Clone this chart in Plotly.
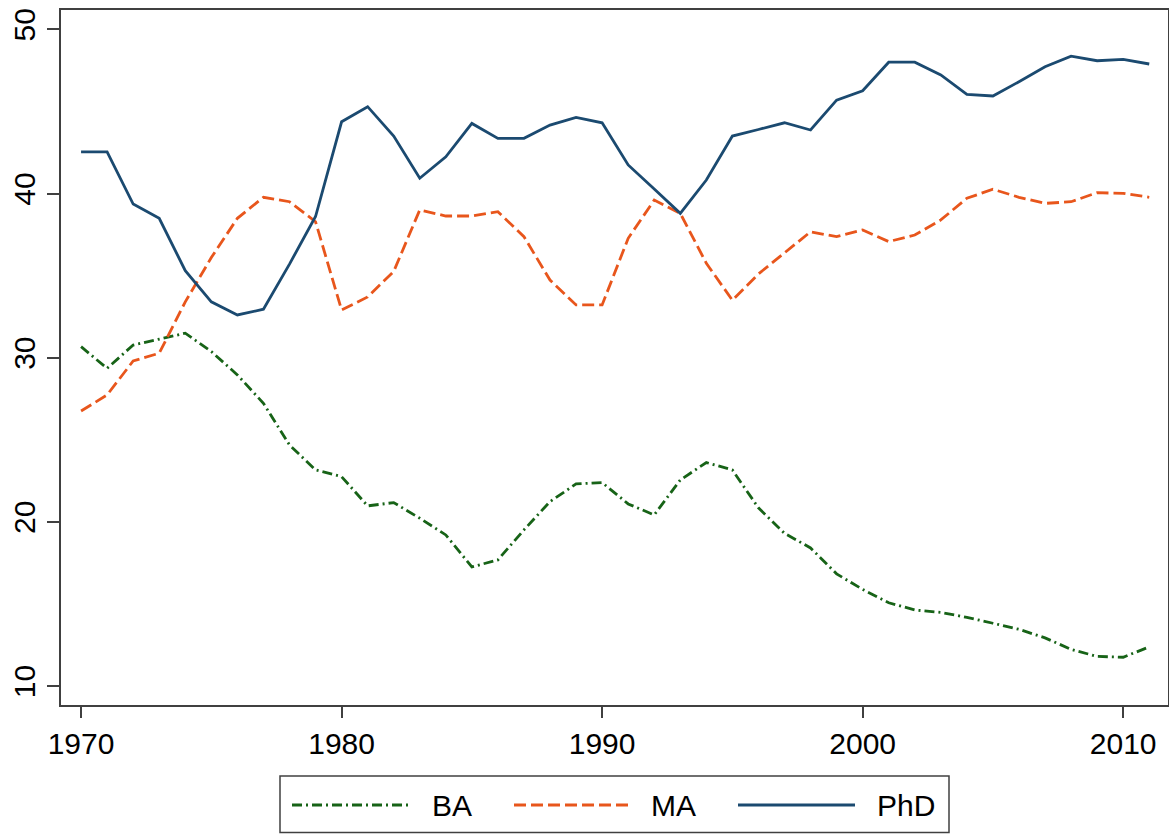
import plotly.graph_objects as go

years = list(range(1970, 2012))

ba = [30.67, 29.35, 30.77, 31.12, 31.49, 30.37, 28.95, 27.22, 24.68, 23.16,
      22.75, 20.97, 21.17, 20.22, 19.20, 17.25, 17.68, 19.51, 21.23, 22.31,
      22.39, 21.09, 20.42, 22.55, 23.61, 23.16, 20.85, 19.30, 18.41, 16.83,
      15.88, 15.07, 14.63, 14.48, 14.18, 13.82, 13.45, 12.93, 12.23, 11.80,
      11.75, 12.38]

ma = [26.75, 27.73, 29.80, 30.27, 33.40, 36.10, 38.49, 39.77, 39.50, 38.28,
      32.90, 33.70, 35.25, 39.00, 38.63, 38.63, 38.89, 37.37, 34.73, 33.21,
      33.21, 37.27, 39.60, 38.79, 35.75, 33.50, 35.10, 36.40, 37.67, 37.37,
      37.78, 37.07, 37.47, 38.39, 39.71, 40.26, 39.77, 39.40, 39.50, 40.05,
      40.01, 39.77]

phd = [42.54, 42.54, 39.36, 38.49, 35.30, 33.40, 32.60, 32.95, 35.70, 38.60,
       44.37, 45.29, 43.50, 40.93, 42.24, 44.27, 43.36, 43.36, 44.17, 44.64,
       44.31, 41.74, 40.27, 38.79, 40.82, 43.50, 43.90, 44.31, 43.87, 45.69,
       46.26, 48.00, 48.00, 47.22, 46.04, 45.94, 46.81, 47.72, 48.37, 48.09,
       48.17, 47.89]

series_names = ["BA", "MA", "PhD"]
series_colors = ["#176317", "#e8561c", "#1b4a70"]
series_dash = ["10px,4px,2px,4px", "12px,5px", "solid"]
x_ticks = [1970, 1980, 1990, 2000, 2010]
y_ticks = [10, 20, 30, 40, 50]

FONT = "Liberation Sans, Arial, sans-serif"
AXIS_COLOR = "#404040"
LW = 2.8

fig = go.Figure()
for name, vals, col, dash in zip(series_names, [ba, ma, phd], series_colors, series_dash):
    fig.add_trace(go.Scatter(x=years, y=vals, mode="lines", name=name,
                             line=dict(color=col, width=LW, dash=dash),
                             showlegend=False))

W, H = 1169, 834
L, R, T, B = 61, 1, 10, 129
pw, ph = W - L - R, H - T - B

def xp(px):  # page pixel -> paper x
    return (px - L) / pw

def yp(py):  # page pixel -> paper y
    return (H - B - py) / ph

shapes = [dict(type="rect", xref="paper", yref="paper",
               x0=xp(280), x1=xp(949), y0=yp(832.5), y1=yp(776),
               line=dict(color=AXIS_COLOR, width=1.5), fillcolor="white", layer="above")]
annotations = []
legend_items = [(292, 410, 430), (514, 632, 649), (738, 855, 875)]
for (lx0, lx1, tx), name, col, dash in zip(legend_items, series_names, series_colors, series_dash):
    shapes.append(dict(type="line", xref="paper", yref="paper",
                       x0=xp(lx0), x1=xp(lx1), y0=yp(805), y1=yp(805),
                       line=dict(color=col, width=LW, dash=dash)))
    annotations.append(dict(xref="paper", yref="paper", x=xp(tx), y=yp(805),
                            xanchor="left", yanchor="middle", text=name, showarrow=False,
                            font=dict(family=FONT, size=30, color="black")))

fig.update_layout(
    width=W, height=H,
    margin=dict(l=L, r=R, t=T, b=B, pad=0, autoexpand=False),
    paper_bgcolor="white", plot_bgcolor="white",
    font=dict(family=FONT, size=30, color="black"),
    shapes=shapes, annotations=annotations,
    xaxis=dict(range=[1969.23, 2011.72], tickvals=x_ticks, ticks="outside", ticklen=11,
               tickwidth=1.5, tickcolor=AXIS_COLOR, showgrid=False, zeroline=False,
               showline=True, linecolor=AXIS_COLOR, linewidth=1.5, mirror=True,
               automargin=False,
               tickfont=dict(family=FONT, size=30, color="black")),
    yaxis=dict(range=[8.84, 51.18], tickvals=y_ticks, ticks="outside", ticklen=12,
               tickwidth=1.5, tickcolor=AXIS_COLOR, showgrid=False, zeroline=False,
               showline=True, linecolor=AXIS_COLOR, linewidth=1.5, mirror=True,
               tickangle=-90, automargin=False,
               tickfont=dict(family=FONT, size=30, color="black")),
)

fig.write_html(
    "out.html",
    config={"displayModeBar": False},
    post_script=("document.body.style.margin='0';"
                 "document.body.style.overflow='hidden';"
                 "document.documentElement.style.overflow='hidden';"),
)
